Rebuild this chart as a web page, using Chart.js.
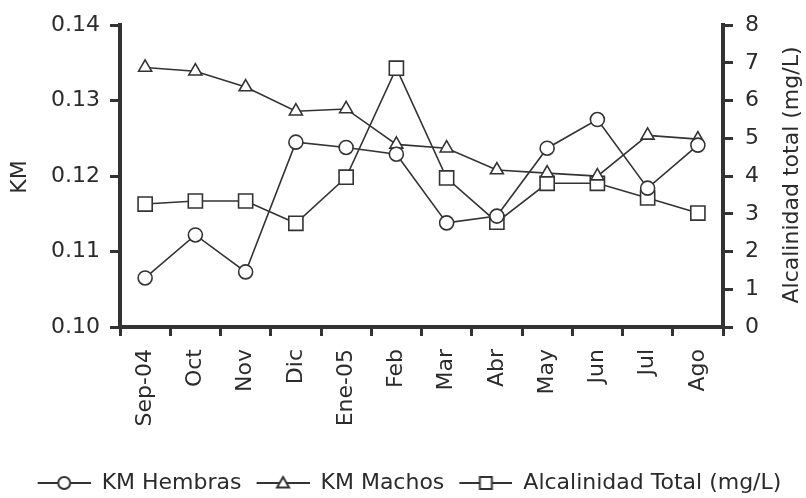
<!DOCTYPE html>
<html>
<head>
<meta charset="utf-8">
<script src="https://cdn.jsdelivr.net/npm/chart.js@4"></script>
<style>
  html, body { margin: 0; padding: 0; background: #fff; }
  #wrap { width: 806px; height: 498px; }
</style>
</head>
<body>
<div id="wrap"><canvas id="chart" width="806" height="498"></canvas></div>
<script>
var meses = ["Sep-04", "Oct", "Nov", "Dic", "Ene-05", "Feb", "Mar", "Abr", "May", "Jun", "Jul", "Ago"];
var kmHembras = [0.1065, 0.1122, 0.1073, 0.1245, 0.1238, 0.1229, 0.1138, 0.1147, 0.1237, 0.1275, 0.1184, 0.1241];
var kmMachos = [0.1344, 0.1339, 0.1318, 0.1286, 0.1289, 0.1242, 0.1237, 0.1208, 0.1204, 0.1200, 0.1254, 0.1249];
var alcalinidad = [3.26, 3.34, 3.34, 2.75, 3.97, 6.86, 3.95, 2.78, 3.81, 3.81, 3.42, 3.02];

var INK = "#333";
var TXT = "#2b2b2b";
var FONT = "'DejaVu Sans', sans-serif";
var FS = 22;

// line + marker icon for the legend (13px empty lead so items are spaced)
function legendIcon(style) {
    var c = document.createElement("canvas");
    c.width = 66; c.height = 18;
    var g = c.getContext("2d");
    g.strokeStyle = INK; g.lineWidth = 2; g.fillStyle = "#fff";
    g.beginPath(); g.moveTo(13, 9); g.lineTo(66, 9); g.stroke();
    var cx = 39.5;
    g.beginPath();
    if (style === "circle") g.arc(cx, 9, 6, 0, Math.PI * 2);
    else if (style === "triangle") { g.moveTo(cx, 3); g.lineTo(cx + 6, 13.5); g.lineTo(cx - 6, 13.5); g.closePath(); }
    else g.rect(cx - 6, 3, 12, 12);
    g.fill(); g.stroke();
    return c;
}

var axisTitles = {
    id: "axisTitles",
    afterDraw: function (chart) {
        var ctx = chart.ctx;
        ctx.save();
        ctx.fillStyle = TXT;
        ctx.font = FS + "px " + FONT;
        ctx.textAlign = "center";
        ctx.textBaseline = "middle";
        ctx.translate(20, 177); ctx.rotate(-Math.PI / 2);
        ctx.fillText("KM", 0, 0);
        ctx.setTransform(1, 0, 0, 1, 0, 0);
        ctx.translate(792, 175); ctx.rotate(-Math.PI / 2);
        ctx.fillText("Alcalinidad total (mg/L)", 0, 0);
        ctx.restore();
    }
};

var ctx = document.getElementById("chart").getContext("2d");
new Chart(ctx, {
    type: "line",
    data: {
        labels: meses,
        datasets: [
            { label: "KM Hembras", data: kmHembras, yAxisID: "y", pointStyle: "circle", pointRadius: 7 },
            { label: "KM Machos", data: kmMachos, yAxisID: "y", pointStyle: "triangle", pointRadius: 7.5 },
            { label: "Alcalinidad Total (mg/L)", data: alcalinidad, yAxisID: "y2", pointStyle: "rect", pointRadius: 10 }
        ].map(function (d) {
            d.borderColor = INK; d.borderWidth = 1.6;
            d.pointBackgroundColor = "#fff"; d.pointBorderColor = INK; d.pointBorderWidth = 1.6;
            d.tension = 0; d.fill = false;
            return d;
        })
    },
    options: {
        responsive: false,
        animation: false,
        layout: { padding: { top: 22, bottom: -6 } },
        plugins: {
            tooltip: { enabled: false },
            legend: {
                position: "bottom",
                labels: {
                    usePointStyle: true,
                    pointStyleWidth: 66,
                    color: TXT,
                    font: { family: FONT, size: FS },
                    padding: 2,
                    generateLabels: function (chart) {
                        var items = Chart.defaults.plugins.legend.labels.generateLabels(chart);
                        var styles = ["circle", "triangle", "rect"];
                        items.forEach(function (it, i) { it.pointStyle = legendIcon(styles[i]); });
                        return items;
                    }
                }
            }
        },
        scales: {
            x: {
                offset: true,
                grid: { offset: true, drawOnChartArea: false, drawTicks: true, tickLength: 9, color: INK, lineWidth: 3 },
                border: { color: INK, width: 4 },
                ticks: { color: TXT, font: { family: FONT, size: FS }, minRotation: 90, maxRotation: 90, padding: 13 },
                afterFit: function (s) { s.height = 143; }
            },
            y: {
                position: "left",
                min: 0.10, max: 0.14,
                grid: { drawOnChartArea: false, tickLength: 10, color: INK, lineWidth: 3 },
                border: { color: INK, width: 4 },
                ticks: {
                    stepSize: 0.01, color: TXT, font: { family: FONT, size: FS }, padding: 10,
                    callback: function (v) { return v.toFixed(2); }
                },
                afterFit: function (s) { s.width = 120; }
            },
            y2: {
                position: "right",
                min: 0, max: 8,
                grid: { drawOnChartArea: false, tickLength: 10, color: INK, lineWidth: 3 },
                border: { color: INK, width: 4 },
                ticks: { stepSize: 1, color: TXT, font: { family: FONT, size: FS }, padding: 12 },
                afterFit: function (s) { s.width = 83; }
            }
        }
    },
    plugins: [axisTitles]
});
</script>
</body>
</html>
